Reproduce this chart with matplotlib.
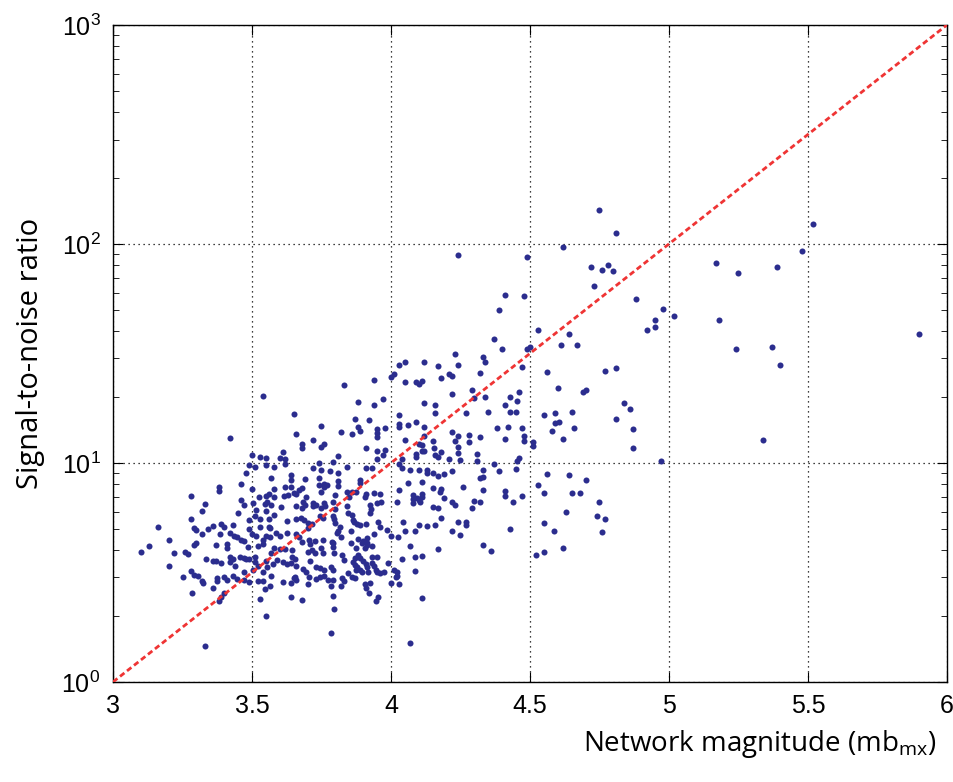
import matplotlib
matplotlib.use("Agg")
import matplotlib.pyplot as plt
from matplotlib.ticker import LogLocator, FixedLocator
import numpy as np

# network magnitude / SNR pairs
mag = [
    4.75, 4.81, 4.62, 4.24, 4.49, 4.72, 4.78, 4.76, 4.80, 4.73, 4.41, 4.48, 4.39, 4.53, 4.37, 4.64,
    4.61, 4.67, 4.40, 4.49, 4.50, 4.23, 4.33, 4.34, 4.24, 4.17, 4.12, 4.05, 4.03, 4.01, 4.00, 4.05,
    4.09, 4.10, 4.11, 4.18, 4.21, 4.22, 4.32, 4.47, 4.56, 4.77, 4.81, 4.60, 4.70, 4.29, 4.69,
    5.52, 5.48, 5.17, 5.25, 5.39, 4.88, 4.98, 5.02, 4.95, 4.95, 4.92, 5.18, 5.24, 5.37, 5.40, 5.90,
    4.84, 4.86, 4.87, 4.87, 5.34, 4.97,
    3.54, 3.42, 3.50, 3.53, 3.55, 3.49, 3.51, 3.55, 3.48, 3.46, 3.38, 3.38, 3.50, 3.56, 3.28,
    3.83, 3.94, 3.65, 3.88, 3.97, 3.94, 4.12, 3.75, 3.66, 3.82, 3.87, 3.88, 3.86, 3.89, 3.92, 3.95,
    3.95, 3.95, 3.98, 4.03, 4.03, 4.03, 4.06, 4.09, 4.12, 4.05, 4.12, 3.72, 3.68, 3.68, 3.76, 3.75,
    3.61, 3.60, 3.62, 3.62, 3.58, 3.57, 3.74, 3.79, 3.81, 3.72, 3.75, 3.78, 3.84, 3.81, 3.91, 3.95,
    3.98, 3.97, 3.95, 3.91, 3.93, 3.89, 3.81, 3.74, 3.64, 3.64, 3.69, 3.58, 3.62, 3.64, 3.68, 3.67,
    3.74, 3.76, 3.77, 3.76, 3.81, 3.84, 3.89, 4.03, 4.04, 4.07, 4.10, 4.03, 4.04, 4.09, 4.09, 4.11,
    4.12, 4.10, 4.11, 4.13, 4.13, 4.06, 4.11, 3.94, 3.96, 3.75, 3.65, 3.66,
    4.22, 4.30, 4.34, 4.16, 4.16, 4.27, 4.35, 4.41, 4.43, 4.46, 4.455, 4.43, 4.45, 4.55, 4.59, 4.65,
    4.59, 4.605, 4.58, 4.66, 4.62, 4.81, 4.38, 4.42, 4.47, 4.48, 4.48, 4.41, 4.32, 4.28, 4.28, 4.22,
    4.24, 4.23, 4.15, 4.155, 4.18, 4.16, 4.17, 4.24, 4.24, 4.25, 4.21, 4.31, 4.31, 4.37, 4.46, 4.455,
    4.51, 4.51, 4.39, 4.45, 4.33, 4.33, 4.32, 4.22, 4.19, 4.17, 4.15, 4.26, 4.33, 4.41, 4.15, 4.18,
    4.175, 4.56, 4.64, 4.70, 4.53, 4.55, 4.65, 4.68, 4.47,
    4.41, 4.19, 4.22, 4.23, 4.30, 4.32, 4.44, 4.15, 4.17, 4.29, 4.18, 4.16, 4.24, 4.27, 4.27, 4.22,
    4.25, 4.43, 4.17, 4.33, 4.36, 4.55, 4.63, 4.585, 4.75, 4.74, 4.77, 4.76, 4.62, 4.52, 4.55,
    3.33, 3.32, 3.28, 3.16, 3.20, 3.13, 3.10, 3.22, 3.26, 3.27, 3.20, 3.25, 3.28, 3.29, 3.30, 3.32,
    3.34, 3.36, 3.39, 3.40, 3.385, 3.43, 3.42, 3.435, 3.445, 3.45, 3.47, 3.46, 3.49, 3.49, 3.51, 3.515,
    3.505, 3.525, 3.55, 3.545, 3.555, 3.55, 3.53, 3.56, 3.53, 3.56, 3.30, 3.29, 3.37, 3.41, 3.41, 3.46,
    3.47, 3.485, 3.52, 3.54, 3.50, 3.515, 3.54, 3.55, 3.335, 3.36, 3.37, 3.39, 3.42, 3.43, 3.42, 3.455,
    3.47, 3.48, 3.49, 3.51, 3.44, 3.47, 3.51, 3.52, 3.505, 3.55, 3.553, 3.54, 3.40, 3.375, 3.445,
    3.29, 3.305, 3.32, 3.325, 3.285, 3.375, 3.36, 3.41, 3.43, 3.40, 3.39, 3.38, 3.47, 3.49, 3.52, 3.54,
    3.545, 3.53, 3.55, 3.33,
    3.57, 3.565, 3.61, 3.64, 3.65, 3.66, 3.64, 3.68, 3.70, 3.705, 3.73, 3.775, 3.79, 3.785, 3.79, 3.795,
    3.785, 3.83, 3.82, 3.87, 3.905, 3.91, 3.925, 3.92, 3.955, 3.945, 4.00, 4.02, 4.03, 4.11, 4.07,
    3.58, 3.615, 3.63, 3.695, 3.80, 3.85, 3.86, 3.91, 3.908, 4.08, 4.095, 4.11, 4.10, 4.08, 3.57, 3.605,
    3.66, 3.685, 3.69, 3.68, 3.72, 3.73, 3.718, 3.76, 3.763, 3.748, 3.79, 3.80, 3.84, 3.875, 3.925, 3.927,
    3.925, 3.95, 3.965, 4.02, 4.08, 4.105, 4.113, 3.58, 3.625, 3.66, 3.675, 3.687, 3.70, 3.715, 3.745,
    3.755, 3.79, 3.795, 3.80, 3.845, 3.86, 3.862, 3.867, 3.878, 3.888, 3.91, 3.955, 3.96, 3.985, 4.045,
    4.10, 4.13, 3.565, 3.585, 3.60, 3.565, 3.625, 3.66, 3.67, 3.70, 3.68, 3.705, 3.71, 3.727, 3.757,
    3.788, 3.805, 3.81, 3.815, 3.82, 3.855, 3.88, 3.895, 3.915, 3.912, 3.94, 4.00, 4.025, 4.05, 4.085,
    3.60, 3.618, 3.58, 3.57, 3.645, 3.644, 3.655, 3.70, 3.715, 3.725, 3.75, 3.757, 3.792, 3.79, 3.855,
    3.875, 3.90, 3.913, 3.93, 3.905, 3.95, 3.932, 3.87, 3.88, 3.89, 3.825, 3.795, 4.07, 4.085, 4.11,
    4.04, 3.575, 3.59, 3.61, 3.625, 3.64, 3.66, 3.685, 3.695, 3.655, 3.71, 3.73, 3.745, 3.76, 3.785,
    3.79, 3.83, 3.845, 3.865, 3.872, 3.879, 3.875, 3.888, 3.895, 3.90, 3.91, 3.915, 3.93, 3.94, 3.945,
    3.95, 3.96, 3.918, 3.975, 4.01, 4.02, 4.018, 3.99, 4.085, 3.822, 3.86, 3.745, 3.76,
]
snr = [
    143, 112, 97, 89, 87, 78.5, 80, 76, 75.5, 64, 58.5, 58, 50, 40.5, 37, 38.7,
    34.4, 34.6, 33, 33, 34, 31.5, 30.6, 29, 28, 27.8, 29, 29, 28, 25.5, 24.6, 23.4,
    23.5, 23, 23.6, 24.5, 25.5, 25, 25.7, 27.5, 26, 26.3, 27, 22.1, 21.6, 21.5, 21,
    123, 93, 81.5, 73.5, 78.5, 56, 50.5, 47, 45, 41.8, 40.5, 45, 33.3, 33.7, 27.9, 39,
    18.7, 17.7, 14.3, 11.7, 12.7, 10.2,
    20.2, 13, 10.9, 10.6, 10.5, 9.75, 9.55, 9.75, 9.0, 8.0, 7.8, 7.45, 7.6, 7.25, 7.1,
    22.6, 23.9, 16.7, 18.9, 19.6, 18.4, 18.8, 14.7, 13.5, 13.8, 15.9, 14.6, 13.5, 14, 15.7, 14.3,
    13.7, 13.1, 14.5, 16.5, 15.1, 14.6, 14.9, 15.4, 14.6, 12.7, 13.3, 12.7, 12.2, 11.7, 12.2, 11.8,
    11.2, 10.5, 10.4, 9.9, 9.55, 8.5, 10, 10.1, 10.8, 9.5, 9.3, 9.2, 9.55, 9.0, 11.7, 11.3,
    11.4, 10.9, 10.4, 9.5, 9.45, 8.4, 8.25, 8.5, 8.8, 8.4, 8.45, 7.6, 7.75, 7.75, 7.7, 7.5,
    7.9, 8.0, 7.9, 7.75, 7.85, 7.4, 8.1, 7.5, 9.5, 9.3, 9.3, 9.9, 10.4, 10.6, 11.0, 11.3,
    11.35, 12.2, 12.1, 9.3, 9.0, 8.1, 8.15, 7.3, 7.2, 7.4, 7.3, 7.25,
    20.6, 19.8, 20, 18.3, 16.9, 16.9, 17.1, 18.4, 20.1, 21, 19.2, 17.1, 17.1, 16.6, 16.9, 17.1,
    15.2, 15.4, 14.0, 14.5, 12.8, 15.9, 14.4, 14.6, 14.5, 13.3, 12.6, 12.8, 13.1, 13.4, 12.5, 13.9,
    13.3, 12.6, 12.6, 11.7, 11.2, 10.9, 10.6, 11.8, 11.1, 10.3, 10.4, 11.0, 10.2, 9.85, 10.5, 10.25,
    12.4, 12.0, 9.15, 9.4, 9.25, 8.6, 8.55, 9.2, 8.9, 8.75, 9.0, 7.75, 7.5, 7.45, 7.65, 7.6,
    7.4, 8.9, 8.8, 8.4, 7.9, 7.3, 7.3, 7.3, 7.1,
    7.1, 6.95, 6.6, 6.4, 6.7, 6.6, 6.65, 6.3, 6.25, 6.2, 5.6, 5.2, 5.35, 5.4, 5.2, 4.9,
    4.67, 4.97, 4.04, 4.2, 3.96, 5.3, 5.95, 4.87, 6.65, 5.75, 5.55, 4.85, 4.1, 3.79, 3.9,
    6.5, 6.05, 5.53, 5.12, 4.47, 4.18, 3.9, 3.87, 3.94, 3.85, 3.4, 3.0, 3.2, 5.04, 4.94, 4.74,
    5.0, 5.16, 5.25, 5.08, 4.72, 5.2, 4.8, 4.65, 4.57, 5.9, 6.45, 6.78, 4.98, 5.5, 5.73, 6.1,
    6.55, 7.0, 7.1, 6.5, 6.6, 6.05, 5.55, 5.55, 5.12, 5.1, 4.3, 4.22, 4.2, 4.25, 4.07, 4.43,
    4.4, 4.14, 4.17, 4.27, 4.74, 4.65, 4.45, 4.65, 3.66, 3.55, 3.57, 3.48, 3.73, 3.63, 3.54, 3.73,
    3.68, 3.63, 3.65, 3.73, 3.38, 3.16, 3.53, 3.38, 3.25, 3.56, 3.36, 3.17, 3.0, 2.97, 2.96,
    3.08, 3.05, 2.89, 2.82, 2.56, 2.89, 2.68, 2.93, 3.05, 2.56, 2.45, 2.33, 2.92, 2.85, 2.89, 2.88,
    2.65, 2.4, 2.0, 1.46,
    3.03, 2.75, 2.87, 2.82, 2.97, 2.93, 2.44, 2.37, 2.79, 3.0, 2.95, 2.92, 2.92, 2.74, 2.48, 2.15,
    1.68, 2.88, 2.74, 2.97, 2.8, 2.68, 2.84, 2.54, 2.45, 2.35, 2.84, 3.03, 2.79, 2.41, 1.5,
    6.97, 7.07, 7.16, 6.97, 7.15, 6.99, 7.4, 7.2, 7.0, 7.15, 6.95, 7.25, 6.75, 6.83, 6.4, 6.3,
    6.35, 6.6, 6.43, 6.2, 6.55, 6.43, 6.36, 6.57, 6.33, 6.22, 6.65, 6.15, 6.35, 7.4, 6.43, 6.18,
    5.9, 6.57, 6.65, 6.65, 6.57, 6.65, 6.97, 5.79, 5.43, 5.57, 5.6, 5.5, 5.3, 5.27, 5.73,
    5.61, 5.73, 5.55, 5.33, 5.9, 5.77, 5.47, 5.36, 5.25, 5.21, 5.27, 5.36, 5.09, 4.94, 5.36,
    5.19, 5.13, 5.07, 4.78, 4.65, 4.61, 4.78, 4.73, 4.61, 5.07, 4.37, 4.45, 4.27, 4.39, 4.45,
    4.37, 4.78, 4.9, 5.09, 4.57, 4.9, 4.48, 4.3, 4.52, 4.32, 4.74, 4.63, 4.61, 4.9, 4.87,
    4.04, 4.04, 4.08, 3.87, 4.01, 3.73, 3.66, 3.94, 4.01, 3.87, 4.07, 3.88, 4.33, 4.12, 4.29,
    4.07, 4.42, 4.22, 4.17, 4.08, 3.73, 3.7, 3.67, 3.8, 3.67, 3.8, 3.88, 4.16, 3.73, 3.77,
    3.63, 3.46, 3.61, 3.54, 3.45, 3.5, 3.39, 3.27, 3.17, 3.0, 3.57, 3.36, 3.3, 3.25, 3.36,
    3.25, 3.61, 3.13, 3.54, 3.41, 3.34, 3.25, 3.25, 3.18, 3.58, 3.46, 3.36, 3.51, 3.39, 3.25,
    3.18, 3.13, 3.19, 3.16, 3.25, 3.16, 3.0, 3.49, 3.22, 2.97, 3.0, 3.0, 3.05,
]

# reference line snr = 10^(mb - 3)
ref_mag = [3, 6]
ref_snr = [1, 1000]

x_ticks = [3, 3.5, 4, 4.5, 5, 5.5, 6]
x_labels = ['3', '3.5', '4', '4.5', '5', '5.5', '6']

fig = plt.figure(figsize=(9.54, 7.82), dpi=100)
ax = fig.add_axes([0.1185, 0.128, 0.874, 0.840])

ax.scatter(mag, snr, s=19, color='#2b2d8e', linewidths=0, zorder=3)
ax.plot(ref_mag, ref_snr, color='#ef3434', lw=2, ls=(0, (2.0, 1.2)), zorder=4)

ax.set_yscale('log')
ax.set_xlim(3, 6)
ax.set_ylim(1, 1000)
ax.xaxis.set_major_locator(FixedLocator(x_ticks))
ax.set_xticklabels(x_labels)
ax.yaxis.set_major_locator(LogLocator(base=10, numticks=10))
ax.yaxis.set_minor_locator(LogLocator(base=10, subs=np.arange(2, 10), numticks=10))

ax.grid(True, which='major', color='black', ls=(0, (1, 3)), lw=0.9)
ax.tick_params(which='both', direction='in', top=True, right=True, labelsize=18, pad=9)
ax.tick_params(which='major', length=7)
ax.tick_params(which='minor', length=4)
for s in ax.spines.values():
    s.set_linewidth(1.0)

plt.rcParams['mathtext.fontset'] = 'custom'
plt.rcParams['mathtext.rm'] = 'Liberation Sans'
for lab in ax.get_xticklabels() + ax.get_yticklabels():
    lab.set_fontfamily('Liberation Sans')

ax.set_ylabel('Signal-to-noise ratio', fontsize=21, fontfamily='Open Sans', labelpad=12)
fig.text(0.982, 0.028, 'Network magnitude (mb$_{\\mathregular{mx}}$)', fontsize=20,
         fontfamily='Open Sans', ha='right', va='bottom')

fig.savefig('out.png', dpi=100)
